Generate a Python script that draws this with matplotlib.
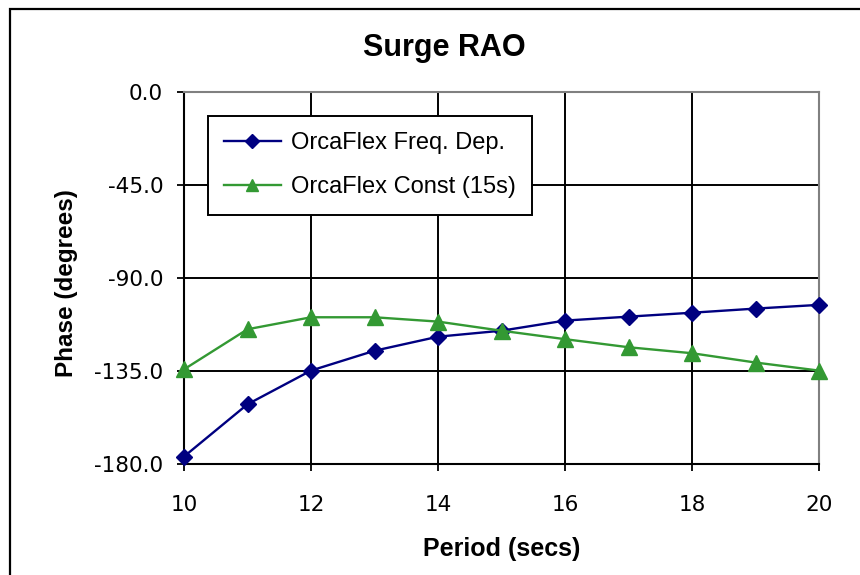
import matplotlib
matplotlib.use("Agg")
import matplotlib.pyplot as plt
from matplotlib.patches import Rectangle

# Data
periods = [10, 11, 12, 13, 14, 15, 16, 17, 18, 19, 20]
freq_dep = [-176.4, -151.1, -134.8, -125.2, -118.4, -115.5, -110.6, -108.7, -106.8, -104.8, -103.0]
const_15s = [-134.2, -114.8, -109.0, -109.0, -111.1, -115.5, -119.6, -123.5, -126.4, -130.9, -134.8]
x_ticks = [10, 12, 14, 16, 18, 20]
y_ticks = [0.0, -45.0, -90.0, -135.0, -180.0]
series_names = ["OrcaFlex Freq. Dep.", "OrcaFlex Const (15s)"]

W, H = 860, 575
fig = plt.figure(figsize=(W / 100, H / 100), dpi=100)
fig.patch.set_facecolor("white")

# outer chart border (extends past right/bottom edges)
fig.patches.append(Rectangle((10 / W, -0.2), 1.3, 1 - 9 / H + 0.2, transform=fig.transFigure,
                             fill=False, edgecolor="black", linewidth=1.6, clip_on=False))

left, right, top, bottom = 184, 819, 92, 464
ax = fig.add_axes([left / W, 1 - bottom / H, (right - left) / W, (bottom - top) / H])

ax.plot(periods, freq_dep, color="#000080", marker="D", markersize=8, linewidth=1.7,
        label=series_names[0], clip_on=False, zorder=3)
ax.plot(periods, const_15s, color="#339933", marker="^", markersize=11, linewidth=1.7,
        label=series_names[1], clip_on=False, zorder=3)

ax.set_xlim(10, 20)
ax.set_ylim(-180, 0)
ax.set_xticks(x_ticks)
ax.set_xticklabels([str(v) for v in x_ticks])
ax.set_yticks(y_ticks)
ax.set_yticklabels([f"{v:.1f}" for v in y_ticks])

ax.grid(True, color="black", linewidth=1.4, zorder=1)
ax.set_axisbelow(True)
for s in ["left", "bottom"]:
    ax.spines[s].set_color("black")
    ax.spines[s].set_linewidth(1.5)
for s in ["top", "right"]:
    ax.spines[s].set_color("#808080")
    ax.spines[s].set_linewidth(1.5)

ax.tick_params(axis="both", direction="out", length=5, width=1.3, color="black",
               labelsize=15.5)
ax.tick_params(axis="y", pad=10)
ax.tick_params(axis="x", pad=17)
for lab in ax.get_xticklabels() + ax.get_yticklabels():
    lab.set_family("DejaVu Sans")

fig.text(444.5 / W, 1 - 48 / H, "Surge RAO", ha="center", va="center",
         fontsize=22, fontweight="bold", family="Liberation Sans")
fig.text(502 / W, 1 - 549 / H, "Period (secs)", ha="center", va="center",
         fontsize=18, fontweight="bold", family="Liberation Sans")
fig.text(66 / W, 1 - 283.5 / H, "Phase (degrees)", ha="center", va="center",
         rotation=90, fontsize=17.5, fontweight="bold", family="Liberation Sans")

leg = ax.legend(loc="upper left", bbox_to_anchor=(208 / W, 1 - 116 / H),
                bbox_transform=fig.transFigure, borderaxespad=0,
                prop={"family": "Liberation Sans", "size": 17},
                frameon=True, fancybox=False, framealpha=1, edgecolor="black",
                handlelength=2.4, handletextpad=0.45, borderpad=0.68, labelspacing=0.95)
leg.get_frame().set_linewidth(1.4)
for h in leg.legend_handles:
    h.set_markersize(h.get_markersize() * 0.85)

fig.savefig("out.png", dpi=100, facecolor="white")
